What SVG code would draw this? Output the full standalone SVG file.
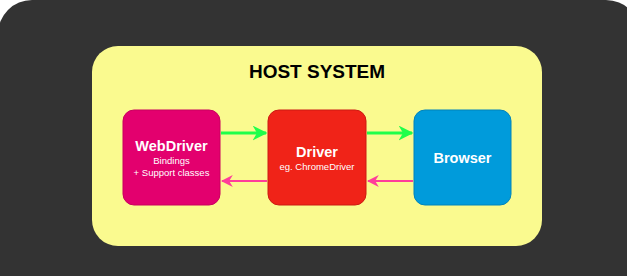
<svg xmlns="http://www.w3.org/2000/svg" width="627" height="276" viewBox="0 0 627 276">
  <style>
    .node-label { font-family: "Liberation Sans", Arial, sans-serif; fill: #ffffff; text-anchor: middle; }
    .title { font-family: "Liberation Sans", Arial, sans-serif; font-weight: bold; font-size: 19px; fill: #000000; text-anchor: middle; }
    .big { font-weight: bold; font-size: 14.5px; }
    .small { font-size: 9.5px; }
    .req { stroke: #1fff4a; stroke-width: 3; fill: none; }
    .resp { stroke: #ff3d9a; stroke-width: 2; fill: none; }
  </style>
  <defs>
    <marker id="arrow-green" viewBox="0 0 10 10" refX="9" refY="5" markerWidth="5" markerHeight="5" markerUnits="strokeWidth" orient="auto">
      <path d="M0,0 L10,5 L0,10 L3,5 Z" fill="#1fff4a"/>
    </marker>
    <marker id="arrow-pink" viewBox="0 0 10 10" refX="9" refY="5" markerWidth="6" markerHeight="6" markerUnits="strokeWidth" orient="auto">
      <path d="M0,0 L10,5 L0,10 L3,5 Z" fill="#ff3d9a"/>
    </marker>
  </defs>

  <rect x="0" y="0" width="627" height="276" fill="#ffffff"/>
  <rect x="-2" y="0" width="642" height="310" rx="34" ry="34" fill="#333333"/>

  <g id="host-system">
    <rect x="92" y="46" width="450" height="200" rx="26" ry="26" fill="#fafa8f"/>
    <text class="title" x="317" y="78">HOST SYSTEM</text>
  </g>

  <g id="webdriver">
    <rect x="123" y="110" width="97" height="95" rx="11" ry="11" fill="#e3006e" stroke="#c9005f" stroke-width="1"/>
    <text class="node-label big" x="171.5" y="151">WebDriver</text>
    <text class="node-label small" x="171.5" y="164">Bindings</text>
    <text class="node-label small" x="171.5" y="176">+ Support classes</text>
  </g>

  <g id="driver">
    <rect x="268" y="110" width="98" height="95" rx="11" ry="11" fill="#f02318" stroke="#cc1a12" stroke-width="1"/>
    <text class="node-label big" x="317" y="157">Driver</text>
    <text class="node-label small" x="317" y="170">eg. ChromeDriver</text>
  </g>

  <g id="browser">
    <rect x="414" y="110" width="97" height="95" rx="11" ry="11" fill="#009bdb" stroke="#0083ba" stroke-width="1"/>
    <text class="node-label big" x="462.5" y="163">Browser</text>
  </g>

  <g id="connectors">
    <line class="req" x1="221" y1="133" x2="266" y2="133" marker-end="url(#arrow-green)"/>
    <line class="req" x1="367" y1="133" x2="412" y2="133" marker-end="url(#arrow-green)"/>
    <line class="resp" x1="267" y1="181" x2="222" y2="181" marker-end="url(#arrow-pink)"/>
    <line class="resp" x1="413" y1="181" x2="368" y2="181" marker-end="url(#arrow-pink)"/>
  </g>
</svg>
